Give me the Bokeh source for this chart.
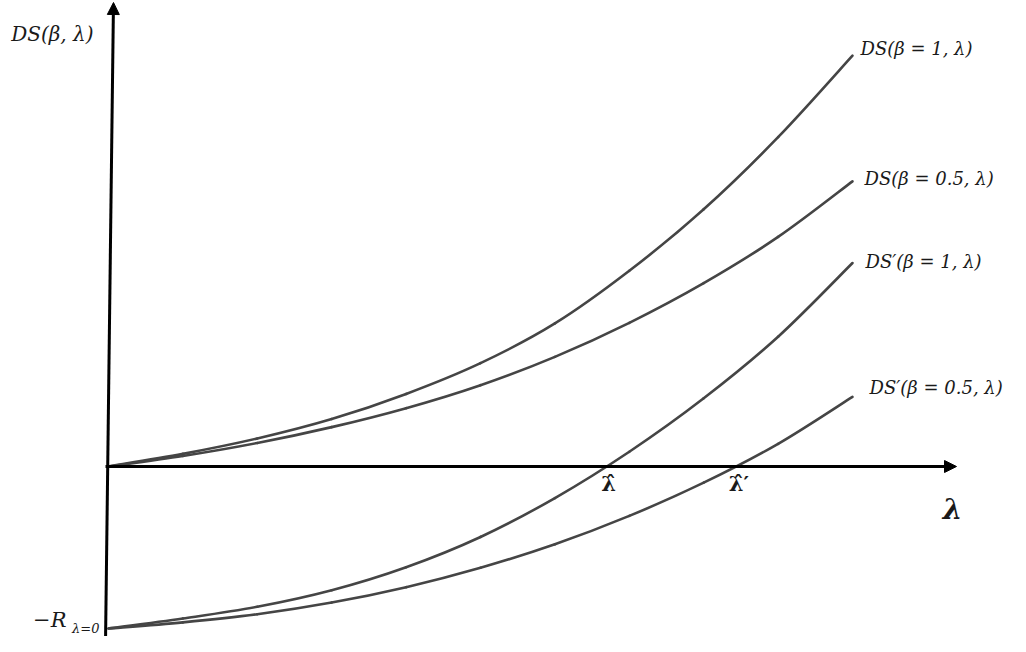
from bokeh.plotting import figure
from bokeh.models import Range1d, Arrow, NormalHead, ColumnDataSource
from bokeh.core.properties import value
from bokeh.embed import file_html
from bokeh.resources import INLINE

# ---- data ----
R0 = 10
lam = [0, 1, 2, 3, 4, 5, 6, 7, 8, 9, 10]
ds_b1 = [0, 0.78, 1.73, 2.93, 4.48, 6.38, 8.83, 12.08, 15.88, 20.33, 25.36]
ds_b05 = [0, 0.65, 1.45, 2.43, 3.60, 5.02, 6.77, 8.87, 11.32, 14.17, 17.60]
dsp_b1 = [-10, -9.38, -8.66, -7.64, -6.22, -4.35, -1.95, 0.91, 4.21, 8.01, 12.56]
dsp_b05 = [-10, -9.62, -9.12, -8.40, -7.45, -6.25, -4.80, -3.05, -1.00, 1.40, 4.30]
curve_labels = ["DS(β = 1, λ)", "DS(β = 0.5, λ)", "DS′(β = 1, λ)", "DS′(β = 0.5, λ)"]
crossings = [6.68, 8.42]
crossing_labels = ["λ̂", "λ̂′"]

FONT = "DejaVu Serif"
CURVE_COLOR = "#454545"
TEXT_COLOR = "#1a1a1a"

W, H = 1010, 636
XPX, YPX = 74.4, 16.2      # pixels per unit
X0, Y0 = 108, 466          # canvas pixel of the origin
p = figure(width=W, height=H, output_backend="svg", toolbar_location=None,
           x_range=Range1d(-X0 / XPX, (W - X0) / XPX),
           y_range=Range1d((Y0 - H) / YPX, Y0 / YPX),
           min_border=0)
p.axis.visible = False
p.grid.visible = False
p.outline_line_color = None
p.background_fill_color = "white"
p.border_fill_color = "white"

x_tip = 848 / XPX
y_tip = 464 / YPX
# axes drawn as arrows
p.add_layout(Arrow(end=NormalHead(size=12, fill_color="black", line_color="black", line_width=1),
                   x_start=-0.04, y_start=0, x_end=x_tip, y_end=0,
                   line_color="black", line_width=3))
p.add_layout(Arrow(end=NormalHead(size=12, fill_color="black", line_color="black", line_width=1),
                   x_start=-0.04, y_start=-10.8, x_end=0.067, y_end=y_tip,
                   line_color="black", line_width=3))


def smooth(xs, ys):
    """Catmull-Rom segments through the read points, drawn as cubic Beziers."""
    n = len(xs)
    seg = dict(x0=[], y0=[], x1=[], y1=[], cx0=[], cy0=[], cx1=[], cy1=[])
    for i in range(n - 1):
        a = max(i - 1, 0)
        d = min(i + 2, n - 1)
        seg["x0"].append(xs[i]); seg["y0"].append(ys[i])
        seg["x1"].append(xs[i + 1]); seg["y1"].append(ys[i + 1])
        seg["cx0"].append(xs[i] + (xs[i + 1] - xs[a]) / 6)
        seg["cy0"].append(ys[i] + (ys[i + 1] - ys[a]) / 6)
        seg["cx1"].append(xs[i + 1] - (xs[d] - xs[i]) / 6)
        seg["cy1"].append(ys[i + 1] - (ys[d] - ys[i]) / 6)
    return ColumnDataSource(seg)


for ys in (ds_b1, ds_b05, dsp_b1, dsp_b05):
    p.bezier(x0="x0", y0="y0", x1="x1", y1="y1", cx0="cx0", cy0="cy0", cx1="cx1", cy1="cy1",
             source=smooth(lam, ys), line_color=CURVE_COLOR, line_width=2.6, line_cap="round")

end_y = [ds_b1[-1], ds_b05[-1], dsp_b1[-1], dsp_b05[-1]]
lab_src = ColumnDataSource(dict(x=[lam[-1]] * 4, y=end_y, text=curve_labels,
                                xo=[8, 12, 13, 17], yo=[-7, -3, -2, -9]))
p.text(x="x", y="y", text="text", x_offset="xo", y_offset="yo", source=lab_src,
       text_font=value(FONT), text_font_style="italic", text_font_size="18px",
       text_baseline="middle", text_align="left", text_color=TEXT_COLOR)

# crossing labels
p.text(x=crossings, y=[0, 0], text=crossing_labels, x_offset=[3, 4], y_offset=[17, 17],
       text_font=value(FONT), text_font_style="bold", text_font_size="21px",
       text_baseline="middle", text_align="center", text_color=TEXT_COLOR)

# axis labels
p.text(x=[x_tip], y=[0], text=["λ"], x_offset=[-4], y_offset=[43],
       text_font=value(FONT), text_font_style="bold italic", text_font_size="28px",
       text_baseline="middle", text_align="center", text_color=TEXT_COLOR)
p.text(x=[0], y=[26.7], text=["DS(β, λ)"], x_offset=[-15], y_offset=[0],
       text_font=value(FONT), text_font_style="italic", text_font_size="20px",
       text_baseline="middle", text_align="right", text_color=TEXT_COLOR)
p.text(x=[0], y=[-R0], text=["−R"], x_offset=[-42], y_offset=[-9],
       text_font=value(FONT), text_font_style="italic", text_font_size="21px",
       text_baseline="middle", text_align="right", text_color=TEXT_COLOR)
p.text(x=[0], y=[-R0], text=["λ=0"], x_offset=[-9], y_offset=[0],
       text_font=value(FONT), text_font_style="italic", text_font_size="13px",
       text_baseline="middle", text_align="right", text_color=TEXT_COLOR)

open("out.html", "w").write(file_html(p, INLINE))
